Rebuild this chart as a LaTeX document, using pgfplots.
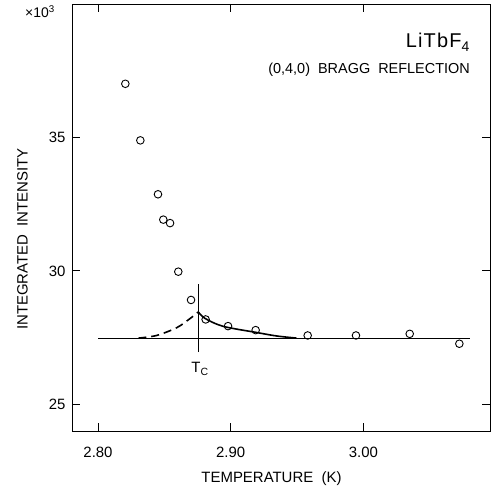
\documentclass[border=0pt]{standalone}
\usepackage{pgfplots}
\pgfplotsset{compat=1.18}
\usepackage{fontspec}
\setmainfont{Liberation Sans}
\begin{document}
\begin{tikzpicture}
\path[use as bounding box] (-72bp,-58bp) rectangle (419bp,431bp);
\begin{axis}[
  at={(0,0)}, anchor=south west,
  scale only axis, width=418bp, height=427bp,
  xmin=2.7804, xmax=3.0954, ymin=24, ymax=40,
  xtick={2.8,2.9,3.0}, xticklabels={2.80,2.90,3.00},
  ytick={25,30,35},
  tick align=inside, major tick length=8bp,
  xtick pos=both, ytick pos=both,
  axis line style={line width=0.9bp},
  tick style={line width=0.9bp, black},
  /pgf/number format/assume math mode=true,
  tick label style={font=\fontsize{15}{18}\selectfont},
  xticklabel style={yshift=-13bp},
  yticklabel style={xshift=-3bp},
  xticklabel pos=bottom, yticklabel pos=left,
]
\addplot[only marks, mark=o, mark size=3.8bp, mark options={line width=0.9bp}] coordinates {
(2.8206,37.01) (2.8319,34.89) (2.8452,32.87) (2.8492,31.92) (2.8543,31.79)
(2.8605,29.97) (2.8701,28.91) (2.8811,28.18) (2.8980,27.93) (2.9188,27.78)
(2.9580,27.58) (2.9944,27.58) (3.0349,27.64) (3.0723,27.27)
};
\addplot[line width=0.8bp] coordinates {(2.80,27.48) (3.0803,27.48)};
\addplot[line width=0.9bp] coordinates {(2.8756,26.96) (2.8756,29.49)};
\addplot[line width=1.6bp, dash pattern=on 8bp off 5bp, smooth] coordinates {
(2.8304,27.48) (2.8442,27.58) (2.8593,27.87) (2.8693,28.21) (2.8756,28.46)};
\addplot[line width=1.6bp, smooth] coordinates {
(2.8756,28.46) (2.8806,28.22) (2.8944,27.92) (2.9196,27.69) (2.9347,27.56) (2.9497,27.48)};
\end{axis}
\node[anchor=base, font=\fontsize{15}{18}\selectfont] at (199.5bp,-51bp) {TEMPERATURE\ \ (K)};
\node[rotate=90, anchor=center, font=\fontsize{15}{18}\selectfont] at (-49.5bp,192bp) {INTEGRATED\ \ INTENSITY};
\node[anchor=base west, inner sep=0pt, font=\fontsize{14}{16}\selectfont] at (-47bp,413bp) {×10\textsuperscript{3}};
\node[anchor=base east, inner sep=0pt, font=\fontsize{20}{24}\selectfont\addfontfeatures{LetterSpace=6}] at (398bp,383bp) {LiTbF\textsubscript{4}};
\node[anchor=base east, inner sep=0pt, font=\fontsize{14.5}{18}\selectfont] at (398bp,357bp) {(0,4,0)\ \ BRAGG\ \ REFLECTION};
\node[anchor=base, inner sep=0pt, font=\fontsize{15}{18}\selectfont] at (128bp,58bp) {T\textsubscript{C}};
\end{tikzpicture}
\end{document}
